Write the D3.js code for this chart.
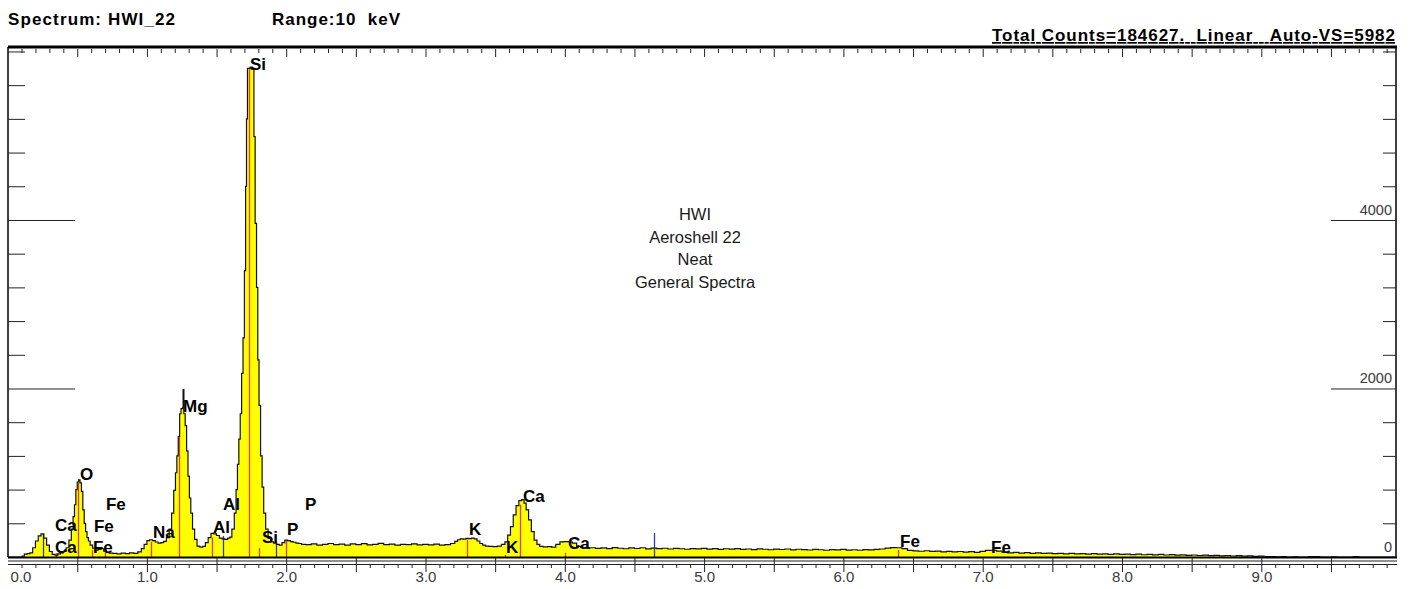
<!DOCTYPE html>
<html>
<head>
<meta charset="utf-8">
<script src="https://cdn.jsdelivr.net/npm/d3@7"></script>
<style>
  html, body { margin: 0; padding: 0; background: #fff; }
  svg { display: block; }
  text { font-family: "Liberation Sans", Arial, sans-serif; white-space: pre; }
</style>
</head>
<body>
<svg id="chart" width="1415" height="589"></svg>
<script>
// ---- spectrum up to 4.16 keV (keV, counts), sampled densely around the peaks ----
const lowKeV = [
  0.00, 0.10, 0.11, 0.13, 0.15, 0.17, 0.19, 0.21, 0.23, 0.25, 0.27, 0.29, 0.31, 0.33, 0.35,
  0.37, 0.39, 0.41, 0.43, 0.45, 0.465, 0.475, 0.485, 0.495, 0.505, 0.515, 0.525, 0.535, 0.545,
  0.555, 0.565, 0.575, 0.585, 0.60, 0.62, 0.64, 0.66, 0.68, 0.70, 0.72, 0.74, 0.77, 0.80, 0.83,
  0.86, 0.89, 0.92, 0.95, 0.97, 0.99, 1.01, 1.03, 1.05, 1.07, 1.09, 1.11, 1.13, 1.15, 1.17,
  1.185, 1.20, 1.21, 1.22, 1.23, 1.24, 1.25, 1.26, 1.27, 1.28, 1.29, 1.30, 1.31, 1.32, 1.335,
  1.35, 1.37, 1.39, 1.41, 1.43, 1.45, 1.47, 1.49, 1.51, 1.53, 1.55, 1.57, 1.59, 1.60, 1.62,
  1.635, 1.645, 1.655, 1.665, 1.675, 1.685, 1.695, 1.705, 1.712, 1.718, 1.726, 1.735, 1.745,
  1.755, 1.765, 1.772, 1.782, 1.792, 1.800, 1.810, 1.822, 1.832, 1.845, 1.86, 1.88, 1.90, 1.92,
  1.94, 1.96, 1.98, 2.00, 2.02, 2.04, 2.06, 2.08, 2.10, 2.12,
  2.16, 2.20, 2.24, 2.28, 2.32, 2.36, 2.40, 2.44, 2.48, 2.52, 2.56, 2.60, 2.64, 2.68, 2.72,
  2.76, 2.80, 2.84, 2.88, 2.92, 2.96, 3.00, 3.04, 3.08, 3.12, 3.16,
  3.20, 3.22, 3.24, 3.26, 3.28, 3.30, 3.32, 3.34, 3.36, 3.38, 3.40, 3.42, 3.44, 3.47, 3.50,
  3.53, 3.56, 3.58, 3.60, 3.62, 3.64, 3.66, 3.68, 3.70, 3.715, 3.73, 3.75, 3.77, 3.79, 3.81,
  3.83, 3.86, 3.89, 3.92, 3.95, 3.98, 4.01, 4.04, 4.07, 4.10, 4.13, 4.16
];
const lowCounts = [
  0, 0, 10, 35, 40, 50, 110, 190, 250, 275, 225, 140, 65, 30, 22,
  38, 50, 65, 110, 200, 330, 480, 620, 800, 890, 915, 880, 780, 560,
  400, 300, 230, 190, 140, 105, 82, 90, 98, 70, 55, 45, 42, 38, 45,
  40, 50, 44, 60, 100, 150, 195, 205, 195, 178, 165, 170, 185, 230, 330,
  520, 790, 1000, 1200, 1430, 1700, 1760, 1770, 1700, 1560, 1260, 960, 700, 520, 330,
  210, 130, 118, 125, 170, 230, 280, 275, 255, 225, 215, 210, 225, 235, 330,
  520, 800, 1100, 1400, 1700, 2180, 2600, 3400, 4400, 5200, 5800, 5800, 5810,
  5790, 5800, 4990, 3960, 3200, 2340, 1800, 1200, 830, 520, 330, 220, 180, 165,
  150, 140, 170, 200, 195, 182, 175, 165, 160, 150,
  148, 155, 142, 150, 160, 146, 152, 140, 155, 148, 158, 144, 150, 162, 147,
  153, 141, 150, 146, 156, 143, 150, 145, 152, 140, 148,
  160, 185, 205, 215, 212, 220, 218, 225, 215, 190, 160, 140, 130, 125, 122,
  128, 150, 180, 260, 360, 500, 610, 670, 680, 640, 560, 440, 300, 200, 150,
  125, 120, 122, 118, 150, 180, 182, 178, 165, 125, 110, 105
];

// ---- remainder of the spectrum, one value per 0.04 keV step ----
const tailStartKeV = 4.20;
const tailStepKeV = 0.04;
const tailCounts = [
  110, 102, 108, 100, 112, 104, 98, 108, 101,
  110, 97, 106, 99, 104, 95, 103, 98, 92, 100, 96, 102, 94, 99, 91, 98, 93, 100, 90, 95,
  88, 96, 92, 86, 94, 89, 95, 85, 92, 88, 83, 90, 86, 80, 88, 84, 90, 82, 86, 80,
  88, 84, 90, 95, 105, 112, 110, 100, 78, 72, 68, 74, 66, 70, 62, 67, 60, 65, 58, 63,
  56, 66, 78, 80, 70, 55, 50, 54, 46, 52, 44, 48, 42, 47, 40, 44, 38, 43, 36, 41,
  35, 39, 33, 38, 32, 36, 30, 35, 28, 33, 27, 31, 25, 30, 24, 28, 22, 26, 20, 24,
  18, 22, 16, 20, 14, 18, 12, 16, 10, 14, 8, 10, 4, 6, 2, 4, 0, 2, 0, 0,
  6, 4, 0, 0, 2, 0, 0, 0, 4, 0, 0, 0, 0, 0, 0, 0
];

// ---- identified line markers ----
const markerKeV    = [0.252, 0.345, 0.505, 0.607, 0.700, 1.027, 1.233, 1.467, 1.545, 1.730, 1.807, 1.927, 1.997, 3.300, 3.571, 3.681, 4.004, 4.640, 6.394];
const markerCounts = [273,   45,    880,   80,    105,   180,   1425,  230,   250,   5790,  105,   185,   195,   205,   25,    620,   48,    285,   85];
const markerKind   = ["b",   "r",   "r",   "r",   "r",   "r",   "r",   "r",   "b",   "r",   "r",   "b",   "r",   "r",   "r",   "r",   "r",   "b",   "r"];

// peak cursor above Mg (keV, from counts, to counts)
const cursorKeV = 1.261;
const cursorRange = [1770, 1995];

// ---- element labels (symbol, keV, counts at text baseline) ----
const labelText   = ["Si", "Mg", "O",   "Fe",  "Ca",  "Fe",  "Ca",  "Fe",  "Na",  "Al",  "Al",  "P",   "Si",  "P",   "K",   "K",   "Ca",  "Ca",  "Fe",  "Fe"];
const labelKeV    = [1.740, 1.259, 0.520, 0.706, 0.340, 0.620, 0.340, 0.613, 1.044, 1.546, 1.475, 2.135, 1.826, 2.006, 3.312, 3.578, 3.700, 4.023, 6.407, 7.060];
const labelCounts = [5780, 1721,  914,   558,   309,   297,   47,    47,    226,   558,   285,   558,   166,   261,   261,   47,    653,   95,    119,   47];

// ---- axes ----
const xTickLabels = ["0.0", "1.0", "2.0", "3.0", "4.0", "5.0", "6.0", "7.0", "8.0", "9.0"];
const yTickValues = [0, 2000, 4000];
const yTickLabels = ["0", "2000", "4000"];

// ---- header and notes ----
const headerLeft = "Spectrum: HWI_22";
const headerRange = "Range:10  keV";
const headerRight = "Total Counts=184627.  Linear   Auto-VS=5982";
const notes = ["HWI", "Aeroshell 22", "Neat", "General Spectra"];

// ================= drawing =================
const svg = d3.select("#chart");
const frame = { left: 8, right: 1396, top: 47, bottom: 557 };

const x = d3.scaleLinear().domain([0, 10]).range([7.6, 1400.6]);
const y = d3.scaleLinear().domain([0, 6053]).range([frame.bottom, frame.top]);

// assemble the spectrum
const spectrum = lowKeV.map((e, i) => [e, lowCounts[i]])
  .concat(tailCounts.map((c, i) => [tailStartKeV + i * tailStepKeV, c]));

svg.append("defs").append("clipPath").attr("id", "plotClip")
  .append("rect")
  .attr("x", frame.left).attr("y", frame.top)
  .attr("width", frame.right - frame.left).attr("height", frame.bottom - frame.top);

const plot = svg.append("g").attr("clip-path", "url(#plotClip)");

const area = d3.area()
  .x(d => x(d[0])).y0(y(0)).y1(d => y(d[1]))
  .curve(d3.curveStep);
const line = d3.line()
  .x(d => x(d[0])).y(d => y(d[1]))
  .curve(d3.curveStep);

plot.append("path").datum(spectrum)
  .attr("d", area).attr("fill", "#ffff00");

// line markers
const markers = markerKeV.map((e, i) => ({ e, c: markerCounts[i], k: markerKind[i] }));
plot.selectAll("line.marker").data(markers).join("line")
  .attr("class", "marker")
  .attr("x1", d => Math.round(x(d.e)) + 0.5).attr("x2", d => Math.round(x(d.e)) + 0.5)
  .attr("y1", y(0)).attr("y2", d => y(d.c))
  .attr("stroke", d => d.k === "b" ? "#2a3ccc" : "#d8401e")
  .attr("stroke-width", 1.3);

plot.append("path").datum(spectrum)
  .attr("d", line).attr("fill", "none")
  .attr("stroke", "#111").attr("stroke-width", 1.2);

plot.append("line")
  .attr("x1", Math.round(x(cursorKeV)) + 0.5).attr("x2", Math.round(x(cursorKeV)) + 0.5)
  .attr("y1", y(cursorRange[0])).attr("y2", y(cursorRange[1]))
  .attr("stroke", "#111").attr("stroke-width", 2);

// frame
svg.append("line").attr("x1", frame.left).attr("x2", frame.right + 1)
  .attr("y1", frame.top).attr("y2", frame.top)
  .attr("stroke", "#000").attr("stroke-width", 3);
svg.append("line").attr("x1", frame.left).attr("x2", frame.left)
  .attr("y1", frame.top).attr("y2", frame.bottom)
  .attr("stroke", "#000").attr("stroke-width", 1.5);
svg.append("line").attr("x1", frame.right).attr("x2", frame.right)
  .attr("y1", frame.top).attr("y2", frame.bottom)
  .attr("stroke", "#000").attr("stroke-width", 1.5);
svg.append("line").attr("x1", frame.left).attr("x2", frame.right + 1)
  .attr("y1", frame.bottom + 0.5).attr("y2", frame.bottom + 0.5)
  .attr("stroke", "#000").attr("stroke-width", 2);

// bottom rails
[561, 564.5].forEach(yy => {
  svg.append("line").attr("x1", frame.left).attr("x2", frame.right + 1)
    .attr("y1", yy).attr("y2", yy)
    .attr("stroke", "#222").attr("stroke-width", 1);
});

const tenths = d3.range(0, 100).map(i => i / 10).filter(v => x(v) <= frame.right);
const minorX = tenths.filter((v, i) => i % 5 !== 0);
const majorX = tenths.filter((v, i) => i % 5 === 0 && i > 0);

function styleAxis(g) {
  g.select(".domain").remove();
  g.selectAll(".tick line").attr("stroke", "#222").attr("stroke-width", 1);
}

// bottom ticks
svg.append("g").attr("transform", "translate(0,564)")
  .call(d3.axisBottom(x).tickValues(minorX).tickSize(4).tickFormat(""))
  .call(styleAxis);
svg.append("g").attr("transform", "translate(0,558)")
  .call(d3.axisBottom(x).tickValues(majorX).tickSize(14).tickFormat(""))
  .call(styleAxis);

// bottom labels
const xLabelAxis = svg.append("g").attr("transform", "translate(0,558)")
  .call(d3.axisBottom(x).tickValues(d3.range(0, 10)).tickSize(0).tickPadding(13)
    .tickFormat((d, i) => xTickLabels[i]))
  .call(g => g.select(".domain").remove());
xLabelAxis.selectAll("text")
  .attr("font-size", 15).attr("fill", "#3a3a3a")
  .attr("font-family", "'Liberation Sans', Arial, sans-serif");
xLabelAxis.selectAll(".tick").filter(d => d === 0).select("text")
  .attr("text-anchor", "start").attr("x", 2.5);

// top ticks
svg.append("g").attr("transform", "translate(0,49)")
  .call(d3.axisBottom(x).tickValues(minorX).tickSize(4).tickFormat(""))
  .call(styleAxis);
svg.append("g").attr("transform", "translate(0,49)")
  .call(d3.axisBottom(x).tickValues(majorX).tickSize(8).tickFormat(""))
  .call(styleAxis);

// vertical ticks every 400 counts, long ones at the labelled values
const countTicks = d3.range(400, 6001, 400).filter(v => !yTickValues.includes(v));
const longTicks = yTickValues.filter(v => v > 0);

svg.append("g").attr("transform", `translate(${frame.left},0)`)
  .call(d3.axisRight(y).tickValues(countTicks).tickSize(17).tickFormat(""))
  .call(styleAxis);
svg.append("g").attr("transform", `translate(${frame.left},0)`)
  .call(d3.axisRight(y).tickValues(longTicks).tickSize(67).tickFormat(""))
  .call(styleAxis);
svg.append("g").attr("transform", `translate(${frame.right},0)`)
  .call(d3.axisLeft(y).tickValues(countTicks).tickSize(13).tickFormat(""))
  .call(styleAxis);
svg.append("g").attr("transform", `translate(${frame.right},0)`)
  .call(d3.axisLeft(y).tickValues(longTicks).tickSize(65).tickFormat(""))
  .call(styleAxis);

// count labels on the right
svg.append("g").selectAll("text").data(yTickValues).join("text")
  .attr("x", frame.right - 4)
  .attr("y", d => y(d) - 5)
  .attr("text-anchor", "end")
  .attr("font-size", 14.5)
  .attr("fill", "#3a3a3a")
  .text((d, i) => yTickLabels[i]);

// element labels
const labels = labelText.map((t, i) => ({ t, e: labelKeV[i], c: labelCounts[i] }));
svg.append("g").selectAll("text").data(labels).join("text")
  .attr("x", d => x(d.e))
  .attr("y", d => y(d.c))
  .attr("font-size", 17)
  .attr("font-weight", "bold")
  .attr("fill", "#000")
  .text(d => d.t);

// sample notes
svg.append("g").selectAll("text").data(notes).join("text")
  .attr("x", 695)
  .attr("y", (d, i) => 220 + i * 22.5)
  .attr("text-anchor", "middle")
  .attr("font-size", 16.5)
  .attr("fill", "#1a1a1a")
  .text(d => d);

// header
svg.append("text").attr("x", 8).attr("y", 25)
  .attr("font-size", 17).attr("font-weight", "bold")
  .attr("textLength", 167).text(headerLeft);
svg.append("text").attr("x", 272).attr("y", 25)
  .attr("font-size", 17).attr("font-weight", "bold")
  .attr("textLength", 128).text(headerRange);
svg.append("text").attr("x", 992).attr("y", 41)
  .attr("font-size", 17).attr("font-weight", "bold")
  .attr("text-decoration", "underline")
  .attr("textLength", 403).text(headerRight);
</script>
</body>
</html>
